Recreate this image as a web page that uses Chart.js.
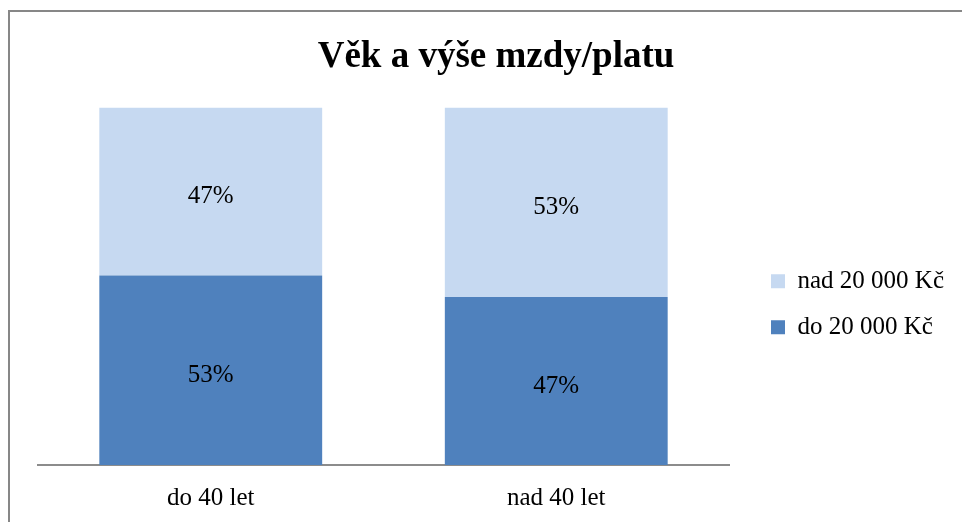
<!DOCTYPE html>
<html>
<head>
<meta charset="utf-8">
<script src="https://cdn.jsdelivr.net/npm/chart.js@4.4.1/dist/chart.umd.min.js"></script>
<style>
  html, body { margin: 0; padding: 0; background: #fff; overflow: hidden; }
  #wrap { position: relative; width: 962px; height: 522px; }
  #frame {
    position: absolute; left: 8px; top: 10px; right: 0; bottom: 0;
    border-top: 2px solid #878787; border-left: 2px solid #878787;
    pointer-events: none;
  }
</style>
</head>
<body>
<div id="wrap">
  <canvas id="mzdaChart" width="962" height="522"></canvas>
  <div id="frame"></div>
</div>
<script>
// data
const categories = ['do 40 let', 'nad 40 let'];
const under20k = [53, 47];   // do 20 000 Kč
const over20k = [47, 53];    // nad 20 000 Kč
const seriesNames = ['do 20 000 Kč', 'nad 20 000 Kč'];

const serif = "'Liberation Serif', 'Times New Roman', serif";

// percent labels in the middle of each bar segment
const segmentLabels = {
  id: 'segmentLabels',
  afterDatasetsDraw(chart) {
    const ctx = chart.ctx;
    ctx.save();
    ctx.font = '25px ' + serif;
    ctx.fillStyle = '#000';
    ctx.textAlign = 'center';
    ctx.textBaseline = 'middle';
    chart.data.datasets.forEach((ds, i) => {
      chart.getDatasetMeta(i).data.forEach((bar, j) => {
        const p = bar.getProps(['x', 'y', 'base'], true);
        ctx.fillText(ds.data[j] + '%', p.x, (p.y + p.base) / 2 + 5);
      });
    });
    ctx.restore();
  }
};

const ctx = document.getElementById('mzdaChart').getContext('2d');
const mzdaChart = new Chart(ctx, {
  type: 'bar',
  data: {
    labels: categories,
    datasets: [{
      label: seriesNames[0],
      data: under20k,
      backgroundColor: '#4f81bd',
      borderWidth: 0
    }, {
      label: seriesNames[1],
      data: over20k,
      backgroundColor: '#c6d9f1',
      borderWidth: 0
    }]
  },
  options: {
    responsive: false,
    animation: false,
    layout: { padding: { left: 38, right: 8, top: 0, bottom: 0 } },
    datasets: { bar: { categoryPercentage: 1, barPercentage: 0.645 } },
    scales: {
      x: {
        stacked: true,
        grid: { display: false },
        border: { display: true, color: '#8c8c8c', width: 2 },
        ticks: { color: '#000', font: { family: serif, size: 25 }, padding: 10 },
        afterFit: s => { s.height = 57; }
      },
      y: {
        stacked: true,
        position: 'right',
        min: 0,
        max: 100,
        grid: { display: false },
        border: { display: false },
        ticks: { display: false },
        afterFit: s => { s.width = 21; }
      }
    },
    plugins: {
      title: {
        display: true,
        text: 'Věk a výše mzdy/platu',
        color: '#000',
        font: { family: serif, size: 37, weight: 'bold' },
        padding: { top: 35, bottom: 28 }
      },
      legend: {
        position: 'right',
        fullSize: false,
        reverse: true,
        title: { display: true, text: ' ', font: { size: 30 }, padding: 0 },
        labels: {
          color: '#000',
          font: { family: serif, size: 25 },
          boxWidth: 14,
          boxHeight: 14,
          padding: 21
        }
      },
      tooltip: { enabled: false }
    }
  },
  plugins: [segmentLabels]
});
</script>
</body>
</html>
